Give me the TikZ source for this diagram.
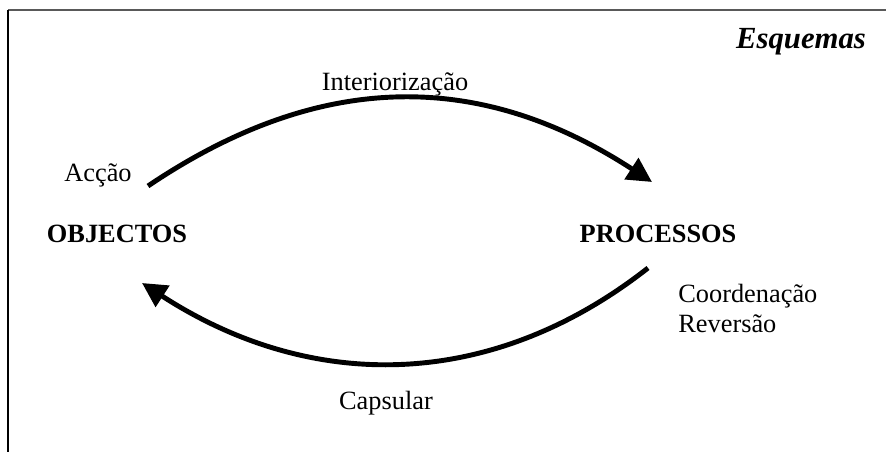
\documentclass[tikz,border=0pt]{standalone}
\usepackage{fontspec}
\setmainfont{Liberation Serif}
\usetikzlibrary{arrows.meta, positioning}

\begin{document}
\begin{tikzpicture}[
	x=0.02cm, y=-0.02cm,
	step label/.style={anchor=base, inner sep=0pt, font=\fontsize{15}{17}\selectfont},
	stage label/.style={anchor=base, inner sep=0pt, font=\fontsize{15}{17}\selectfont\bfseries},
	title label/.style={anchor=base, inner sep=0pt, font=\fontsize{17.5}{20}\selectfont\bfseries\itshape},
	cycle arrow/.style={-{Triangle[length=14pt, width=14pt]}, line width=2.8pt, black},
	]
	\useasboundingbox (0,0) rectangle (886,452);
	
	% frame (only top and left edges show)
	\draw[line width=1.2pt, black!65] (8,10) -- (886,10);
	\draw[line width=1.2pt, black] (8,10) -- (8,452);
	
	% title
	\node[title label] (esquemas) at (801,49) {Esquemas};
	
	% the two stages
	\node[stage label] (objectos) at (117,243) {OBJECTOS};
	\node[stage label] (processos) at (658,243) {PROCESSOS};
	
	% labels on the arrows
	\node[step label] (interior) at (395,91) {Interiorização};
	\node[step label] (accao) at (98,182) {Acção};
	\node[step label, anchor=base west] (coord) at (678,303) {Coordenação};
	\node[step label, anchor=base west] (revers) at (678,333) {Reversão};
	\node[step label] (capsular) at (386,410) {Capsular};
	
	% arrow ends
	\coordinate (top start) at (148,186);
	\coordinate (top end) at (652,182);
	\coordinate (bottom start) at (648,268);
	\coordinate (bottom end) at (142,283);
	
	% the cycle
	\draw[cycle arrow] (top start) .. controls (320,70) and (480,70) .. (top end);
	\draw[cycle arrow] (bottom start) .. controls (490,392) and (310,392) .. (bottom end);
	
\end{tikzpicture}
\end{document}
